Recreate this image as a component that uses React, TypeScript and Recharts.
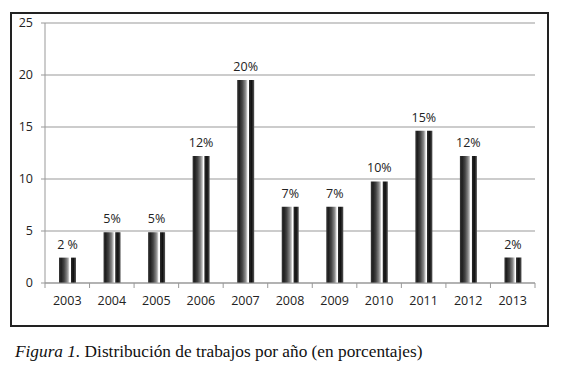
import React from "react";
import { BarChart, Bar, XAxis, YAxis, CartesianGrid, LabelList } from "recharts";

const years = ["2003", "2004", "2005", "2006", "2007", "2008", "2009", "2010", "2011", "2012", "2013"];
const values = [2.44, 4.88, 4.88, 12.2, 19.51, 7.32, 7.32, 9.76, 14.63, 12.2, 2.44];
const labels = ["2 %", "5%", "5%", "12%", "20%", "7%", "7%", "10%", "15%", "12%", "2%"];
const yTicks = [0, 5, 10, 15, 20, 25];

const data = years.map((y, i) => ({ year: y, value: values[i], label: labels[i] }));

const W = 562;
const H = 380;
const margin = { top: 23, right: 27, bottom: 67, left: 10 };
const yAxisWidth = 35;
const plotWidth = W - margin.left - margin.right - yAxisWidth;
const band = plotWidth / years.length;

const FONT = "'Open Sans', 'Noto Sans', sans-serif";

const XTick = (props: any) => {
  const { x, y, payload, index } = props;
  const half = band / 2;
  return (
    <g>
      <line x1={x - half} y1={y - 8} x2={x - half} y2={y - 3} stroke="#999" strokeWidth={1} />
      {index === years.length - 1 && (
        <line x1={x + half} y1={y - 8} x2={x + half} y2={y - 3} stroke="#999" strokeWidth={1} />
      )}
      <text x={x} y={y + 14} textAnchor="middle" fontSize={12.5} fill="#222" fontFamily={FONT}>
        {payload.value}
      </text>
    </g>
  );
};

const renderLabel = (props: any) => {
  const { x, y, width, value } = props;
  return (
    <text
      x={x + width / 2}
      y={y - 9}
      textAnchor="middle"
      fontSize={12.5}
      fill="#222"
      fontFamily={FONT}
    >
      {value}
    </text>
  );
};

export default function App() {
  return (
    <div style={{ position: "absolute", left: 0, top: 0, width: W, height: H, background: "#fff" }}>
      <div
        style={{
          position: "absolute",
          left: 10,
          top: 12,
          width: 535,
          height: 311,
          border: "2px solid #222",
        }}
      />
      <div style={{ position: "absolute", left: 0, top: 0 }}>
        <BarChart width={W} height={H} data={data} margin={margin} barSize={17}>
          <defs>
            <linearGradient id="cyl" x1="0" y1="0" x2="1" y2="0">
              <stop offset="0%" stopColor="#3a3a3a" />
              <stop offset="12%" stopColor="#1e1e1e" />
              <stop offset="30%" stopColor="#444" />
              <stop offset="48%" stopColor="#888" />
              <stop offset="58%" stopColor="#ccc" />
              <stop offset="62%" stopColor="#fff" />
              <stop offset="68%" stopColor="#fff" />
              <stop offset="71%" stopColor="#2a2a2a" />
              <stop offset="85%" stopColor="#111" />
              <stop offset="100%" stopColor="#555" />
            </linearGradient>
          </defs>
          <CartesianGrid vertical={false} stroke="#9a9a9a" strokeWidth={1.2} />
          <XAxis
            dataKey="year"
            stroke="#999"
            tickLine={false}
            tick={<XTick />}
            interval={0}
            height={30}
          />
          <YAxis
            domain={[0, 25]}
            ticks={yTicks}
            width={yAxisWidth}
            stroke="#999"
            tickSize={4}
            tickMargin={8}
            tick={{ fontSize: 12.5, fill: "#222", fontFamily: FONT }}
            interval={0}
          />
          <Bar dataKey="value" fill="url(#cyl)" isAnimationActive={false}>
            <LabelList dataKey="label" content={renderLabel} />
          </Bar>
        </BarChart>
      </div>
      <div
        style={{
          position: "absolute",
          left: 15,
          top: 342,
          fontFamily: "'Liberation Serif', 'Times New Roman', serif",
          fontSize: 17.3,
          color: "#111",
          whiteSpace: "nowrap",
        }}
      >
        <i>Figura 1.</i> Distribución de trabajos por año (en porcentajes)
      </div>
    </div>
  );
}
